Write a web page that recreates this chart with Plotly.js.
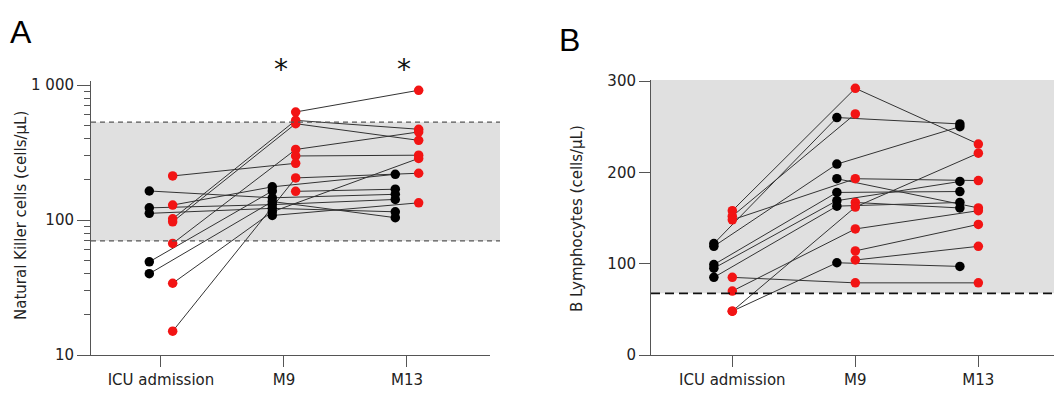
<!DOCTYPE html>
<html>
<head>
<meta charset="utf-8">
<script src="https://cdn.plot.ly/plotly-3.0.1.min.js"></script>
<style>
html,body{margin:0;padding:0;background:#fff;}
#chart{width:1054px;height:394px;}
</style>
</head>
<body>
<div id="chart"></div>
<script>
// ---------- data ----------
const timepoints = ['ICU admission', 'M9', 'M13'];

// Panel A: Natural Killer cells (cells/µL), one entry per patient trajectory
const nkICU  = [null, 102, 97, 67, null, 212, 15, 164, 123, 112, 129, 34, 40, null, null, 49];
const nkM9   = [631, 547, 517, 333, 298, 263, 205, 146, 130, 122, 176, 115, 137, 163, 108, 164];
const nkM13  = [914, 470, 389, 449, 302, null, 222, 155, 142, 115, 218, 286, 104, 169, 134, null];
const nkGrpICU = ['', 'R', 'R', 'R', '', 'R', 'R', 'B', 'B', 'B', 'R', 'R', 'B', '', '', 'B'];
const nkGrpM9  = ['R', 'R', 'R', 'R', 'R', 'R', 'R', 'B', 'B', 'B', 'B', 'B', 'B', 'R', 'B', 'B'];
const nkGrpM13 = ['R', 'R', 'R', 'R', 'R', '', 'R', 'B', 'B', 'B', 'B', 'R', 'B', 'B', 'R', ''];
const nkRange = [70, 530];       // reference interval
const nkStars = ['M9', 'M13'];

// Panel B: B Lymphocytes (cells/µL)
const bICU  = [158, 152, 122, 119, 148, null, 99, 95, 85, null, 85, 70, 48, 48, null, null];
const bM9   = [292, 264, 260, 209, 193, 193, 178, 169, 163, 167, 79, 138, 101, 162, 114, 104];
const bM13  = [231, null, 253, 250, 191, 161, 179, 190, 167, 161, 79, 158, 97, 221, 143, 119];
const bGrpICU = ['R', 'R', 'B', 'B', 'R', '', 'B', 'B', 'B', '', 'R', 'R', 'R', 'R', '', ''];
const bGrpM9  = ['R', 'R', 'B', 'B', 'R', 'B', 'B', 'B', 'B', 'R', 'R', 'R', 'B', 'R', 'R', 'R'];
const bGrpM13 = ['R', '', 'B', 'B', 'R', 'R', 'B', 'B', 'B', 'B', 'R', 'R', 'B', 'R', 'R', 'R'];
const bLow = 67.5;

const nkTickVals = [10, 100, 1000];
const nkTickText = ['10', '100', '1 000'];
const bTickVals = [0, 100, 200, 300];

// ---------- build ----------
const W = 1054, H = 394;
const RED = '#f21414', BLACK = '#000000', LINE = '#333333', AX = '#555555';
const FONT = 'DejaVu Sans, Verdana, sans-serif';

function build(series, groups, offsets, xa, ya) {
  const traces = [];
  const n = series[0].length;
  const pts = {R: {x: [], y: []}, B: {x: [], y: []}};
  for (let i = 0; i < n; i++) {
    const xs = [], ys = [];
    for (let t = 0; t < series.length; t++) {
      const v = series[t][i];
      const g = groups[t][i];
      if (v === null) { xs.push(null); ys.push(null); continue; }
      const x = t + offsets[g];
      xs.push(x); ys.push(v);
      pts[g].x.push(x); pts[g].y.push(v);
    }
    traces.push({x: xs, y: ys, xaxis: xa, yaxis: ya, mode: 'lines', type: 'scatter',
      line: {color: LINE, width: 1}, hoverinfo: 'skip', showlegend: false, connectgaps: false});
  }
  ['B', 'R'].forEach(g => {
    traces.push({x: pts[g].x, y: pts[g].y, xaxis: xa, yaxis: ya, mode: 'markers', type: 'scatter',
      marker: {color: g === 'R' ? RED : BLACK, size: 9.5}, hoverinfo: 'skip', showlegend: false});
  });
  return traces;
}

const traces = [].concat(
  build([nkICU, nkM9, nkM13], [nkGrpICU, nkGrpM9, nkGrpM13], {B: -0.095, R: 0.095}, 'x', 'y'),
  build([bICU, bM9, bM13], [bGrpICU, bGrpM9, bGrpM13], {B: -0.15, R: 0}, 'x2', 'y2')
);

const px = v => v / W;
const py = v => 1 - v / H;

const axX = {
  tickmode: 'array', tickvals: [0, 1, 2], ticktext: timepoints,
  showgrid: false, zeroline: false, showline: true, linecolor: AX, linewidth: 1,
  ticks: 'outside', ticklen: 11, tickcolor: AX, tickwidth: 1,
  tickfont: {family: FONT, size: 15, color: '#222'}, fixedrange: true
};

const layout = {
  width: W, height: H,
  margin: {l: 0, r: 0, t: 0, b: 0},
  paper_bgcolor: '#fff', plot_bgcolor: 'rgba(0,0,0,0)',
  showlegend: false,
  xaxis: Object.assign({}, axX, {domain: [px(91), px(490)], range: [-0.569, 2.675], anchor: 'y'}),
  yaxis: {
    type: 'log', domain: [py(355), py(81)], range: [1, 3.0296], anchor: 'x',
    tickmode: 'array', tickvals: nkTickVals, ticktext: nkTickText,
    showgrid: false, zeroline: false, showline: true, linecolor: AX, linewidth: 1,
    ticks: 'outside', ticklen: 13, tickcolor: AX,
    minor: {ticks: 'outside', ticklen: 6, tickcolor: AX, dtick: 'D1', showgrid: false},
    tickfont: {family: FONT, size: 15, color: '#222'}, fixedrange: true
  },
  xaxis2: Object.assign({}, axX, {domain: [px(651), 1], range: [-0.661, 2.615], anchor: 'y2'}),
  yaxis2: {
    domain: [py(355), py(80)], range: [0, 301.1], anchor: 'x2',
    tickmode: 'array', tickvals: bTickVals,
    showgrid: false, zeroline: false, showline: true, linecolor: AX, linewidth: 1,
    ticks: 'outside', ticklen: 11, tickcolor: AX,
    tickfont: {family: FONT, size: 15, color: '#222'}, fixedrange: true
  },
  shapes: [
    {type: 'rect', xref: 'paper', yref: 'y', x0: px(91), x1: px(500), y0: nkRange[0], y1: nkRange[1],
      fillcolor: '#e0e0e0', line: {width: 0}, layer: 'below'},
    {type: 'line', xref: 'paper', yref: 'y', x0: px(91), x1: px(500), y0: nkRange[0], y1: nkRange[0],
      line: {color: '#555', width: 1.2, dash: '5px,4px'}},
    {type: 'line', xref: 'paper', yref: 'y', x0: px(91), x1: px(500), y0: nkRange[1], y1: nkRange[1],
      line: {color: '#555', width: 1.2, dash: '5px,4px'}},
    {type: 'rect', xref: 'paper', yref: 'y2', x0: px(651), x1: 1, y0: bLow, y1: 301.1,
      fillcolor: '#e0e0e0', line: {width: 0}, layer: 'below'},
    {type: 'line', xref: 'paper', yref: 'y2', x0: px(651), x1: 1, y0: bLow, y1: bLow,
      line: {color: '#111', width: 1.6, dash: '9px,5px'}}
  ],
  annotations: [
    {text: 'A', xref: 'paper', yref: 'paper', x: px(8), y: py(12), xanchor: 'left', yanchor: 'top',
      showarrow: false, font: {family: 'Liberation Sans, Arial, sans-serif', size: 32, color: '#000'}},
    {text: 'B', xref: 'paper', yref: 'paper', x: px(557), y: py(20), xanchor: 'left', yanchor: 'top',
      showarrow: false, font: {family: 'Liberation Sans, Arial, sans-serif', size: 32, color: '#000'}},
    {text: 'Natural Killer cells (cells/µL)', xref: 'paper', yref: 'paper', x: px(21), y: py(216),
      xanchor: 'center', yanchor: 'middle', textangle: -90, showarrow: false,
      font: {family: FONT, size: 15, color: '#222'}},
    {text: 'B Lymphocytes (cells/µL)', xref: 'paper', yref: 'paper', x: px(577), y: py(219),
      xanchor: 'center', yanchor: 'middle', textangle: -90, showarrow: false,
      font: {family: FONT, size: 15, color: '#222'}}
  ].concat(nkStars.map(s => ({
      text: '*', xref: 'x', yref: 'paper', x: timepoints.indexOf(s), xshift: -3, y: py(69),
      xanchor: 'center', yanchor: 'middle', showarrow: false,
      font: {family: FONT, size: 28, color: '#111'}
  })))
};

Plotly.newPlot('chart', traces, layout, {staticPlot: true, displayModeBar: false});
</script>
</body>
</html>
